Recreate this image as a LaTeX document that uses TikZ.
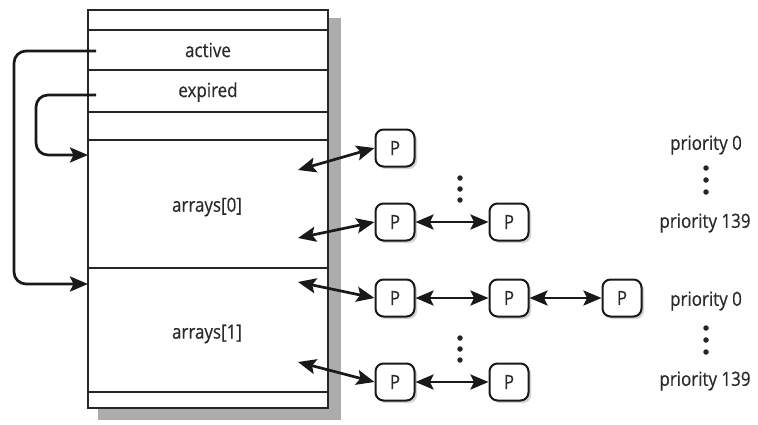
\documentclass[tikz,border=0pt]{standalone}
\usepackage{fontspec}
\setmainfont{Open Sans}[FakeStretch=0.87,FakeBold=0.5]
\usetikzlibrary{arrows.meta,shadows}
\definecolor{txt}{HTML}{2A2A2A}
\begin{document}
\begin{tikzpicture}[x=1pt,y=-1pt,
  tip/.tip={Stealth[length=18pt,width=15pt,inset=3.5pt]},
  pnode/.style={draw=black!90, line width=2pt, rounded corners=8pt, minimum width=39pt, minimum height=37pt,
    inner sep=0pt, fill=white, text=txt, font=\fontsize{19.5}{22}\selectfont,
    drop shadow={shadow xshift=2.5pt,shadow yshift=-2.5pt,fill=gray!70}},
  conn/.style={line width=2.7pt, draw=black!90, tip-tip},
  loop/.style={line width=2.7pt, draw=black!90, rounded corners=12pt, -tip},
  lbl/.style={text=txt, font=\fontsize{19.5}{22}\selectfont},
  row/.style={line width=1.8pt, draw=black!85},
  dot/.style={fill=black!85, circle, inner sep=0pt, minimum size=5.5pt},
]
\useasboundingbox (0,0) rectangle (758,424);
% shadow of the table
\fill[gray!65] (98,18) rectangle (341,420);
% table
\node[draw=black!85, line width=1.8pt, fill=white, minimum width=240pt, minimum height=398pt,
  anchor=north west, inner sep=0pt, outer sep=0pt] (box) at (88,10) {};
\foreach \yy in {30,70,112,140,268,392}
  \draw[row] (88,\yy) -- (328,\yy);
% labels
\node[lbl] (active) at (208,50) {active};
\node[lbl] (expired) at (208,92) {expired};
\node[lbl] (arr0) at (207,207) {arrays[0]};
\node[lbl] (arr1) at (207,334) {arrays[1]};
% loop connectors
\coordinate (actS) at (96,51);
\coordinate (expS) at (96,95);
\coordinate (arr0in) at (88,155);
\coordinate (arr1in) at (88,284);
\draw[loop] (actS) -- (14,51) -- (14,284) -- (arr1in);
\draw[loop] (expS) -- (36,95) -- (36,155) -- (arr0in);
% P nodes
\node[pnode] (p1) at (395,148) {P};
\node[pnode] (p2) at (395,222) {P};
\node[pnode] (p3) at (509,222) {P};
\node[pnode] (p4) at (395,298) {P};
\node[pnode] (p5) at (509,298) {P};
\node[pnode] (p6) at (622,298) {P};
\node[pnode] (p7) at (395,382) {P};
\node[pnode] (p8) at (509,382) {P};
% inner ends
\coordinate (e1) at (298,170);
\coordinate (e2) at (298,238);
\coordinate (e3) at (298,282);
\coordinate (e4) at (298,362);
\draw[conn] (e1) -- (p1.west);
\draw[conn] (e2) -- (p2.west);
\draw[conn] (e3) -- (p4.west);
\draw[conn] (e4) -- (p7.west);
\draw[conn] (p2.east) -- (p3.west);
\draw[conn] (p4.east) -- (p5.west);
\draw[conn] (p5.east) -- (p6.west);
\draw[conn] (p7.east) -- (p8.west);
% vertical dots
\foreach \yy in {178,189,200} \node[dot] at (460,\yy) {};
\foreach \yy in {338,349,360} \node[dot] at (460,\yy) {};
\foreach \yy in {168,180,192} \node[dot] at (706,\yy) {};
\foreach \yy in {328,340,352} \node[dot] at (706,\yy) {};
% priority labels
\node[lbl] (pr0a) at (706,145) {priority 0};
\node[lbl] (pr1a) at (705,223) {priority 139};
\node[lbl] (pr0b) at (706,301) {priority 0};
\node[lbl] (pr1b) at (705,381) {priority 139};
\end{tikzpicture}
\end{document}
